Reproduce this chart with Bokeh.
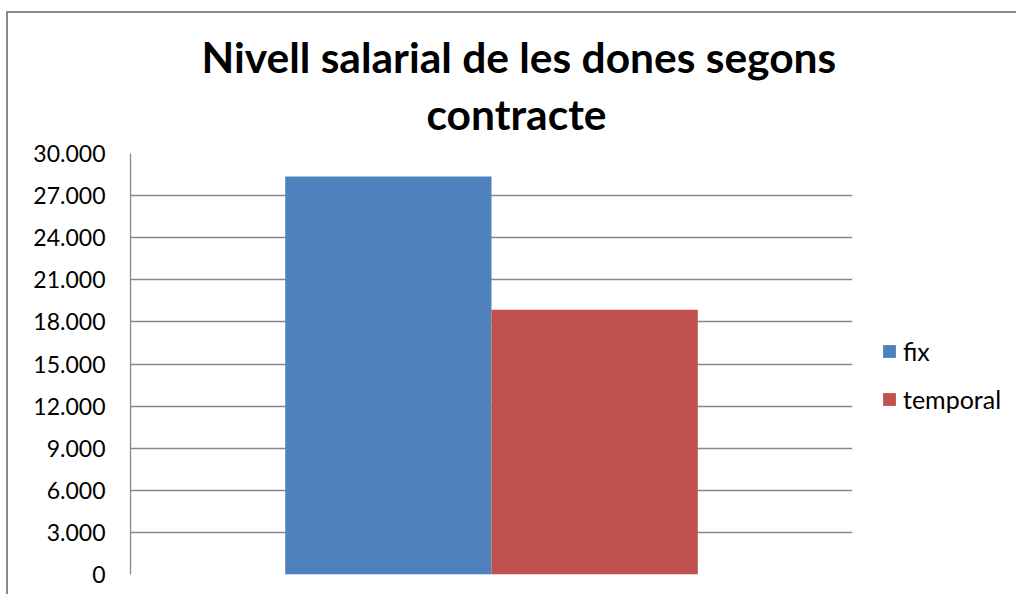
from bokeh.plotting import figure
from bokeh.models import Range1d, Legend, LegendItem, CustomJSTickFormatter, SingleIntervalTicker, Title
from bokeh.embed import file_html
from bokeh.resources import INLINE

# ---- data ----
title_lines = ["Nivell salarial de les dones segons", "contracte"]
series = ["fix", "temporal"]
values = [28360, 18860]
colors = ["#4F81BD", "#C0504D"]
y_max = 30000
y_step = 3000

GRID = "#888888"
FONT = "Lato"

p = figure(frame_width=722, frame_height=421, output_backend="svg", toolbar_location=None,
           x_range=Range1d(0, 1), y_range=Range1d(0, y_max),
           x_axis_location=None, title=None,
           min_border_left=122, min_border_right=162,
           min_border_top=140, min_border_bottom=20)
p.styles = {"border-left": "2px solid #888888", "border-top": "2px solid #888888",
            "margin-left": "6px", "margin-top": "11px"}

# Excel-like clustered bars: gap width 150%
n = len(series)
bw = 1.0 / (n + 1.5)
items = []
for i, (s, v, c) in enumerate(zip(series, values, colors)):
    cx = 0.5 + (i - (n - 1) / 2) * bw
    r = p.vbar(x=[cx], top=[v], width=bw, fill_color=c, line_color=None)
    items.append(LegendItem(label=s, renderers=[r]))

ticker = SingleIntervalTicker(interval=y_step, num_minor_ticks=0)
p.yaxis.ticker = ticker
p.yaxis.formatter = CustomJSTickFormatter(
    code='return String(Math.round(tick)).replace(/\\B(?=(\\d{3})+(?!\\d))/g, ".");')
p.yaxis.axis_line_color = GRID
p.yaxis.axis_line_width = 1.3
p.yaxis.major_tick_out = 0
p.yaxis.major_tick_in = 0
p.yaxis.minor_tick_out = 0
p.yaxis.minor_tick_in = 0
p.yaxis.major_label_standoff = 25
p.yaxis.major_label_text_font = FONT
p.yaxis.major_label_text_font_size = "23px"
p.yaxis.major_label_text_color = "#000000"

p.ygrid.ticker = ticker
p.ygrid.grid_line_color = GRID
p.ygrid.grid_line_width = 1.3
p.xgrid.grid_line_color = None
p.outline_line_color = None

# spacer between frame and title, then one Title per line (first added sits nearest the frame)
p.add_layout(Title(text=" ", text_font_size="10px", standoff=0), "above")
offsets = [71, 296]
for line, off in reversed(list(zip(title_lines, offsets))):
    t = Title(text=line, align="left", offset=off, text_font=FONT,
              text_font_style="bold", text_font_size="42.5px",
              text_color="#000000", standoff=4)
    p.add_layout(t, "above")

legend = Legend(items=items, location=(29, 160), orientation="vertical",
                glyph_width=16, glyph_height=16, label_standoff=6,
                label_height=16,
                label_text_font=FONT, label_text_font_size="25px",
                label_text_color="#000000", padding=0, margin=0,
                spacing=18, border_line_color=None, background_fill_alpha=0)
p.add_layout(legend, "right")

open("out.html", "w").write(file_html(p, INLINE))
